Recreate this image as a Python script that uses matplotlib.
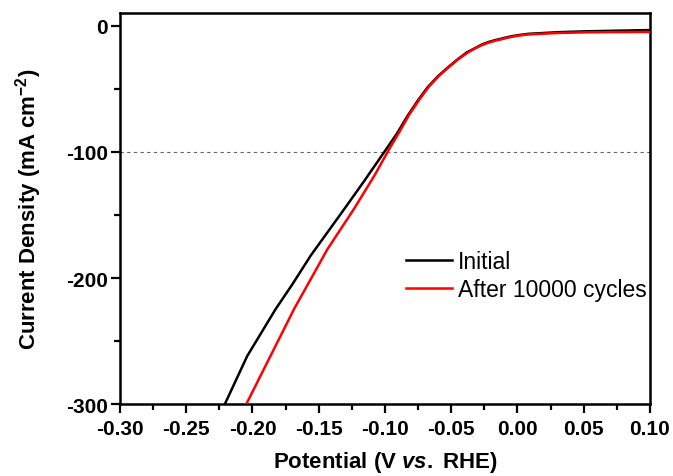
import numpy as np
import matplotlib
matplotlib.use('Agg')
import matplotlib.pyplot as plt
from matplotlib.ticker import MultipleLocator, FormatStrFormatter

plt.rcParams['font.family'] = 'Liberation Sans'
plt.rcParams['axes.unicode_minus'] = False
plt.rcParams['mathtext.fontset'] = 'custom'
plt.rcParams['mathtext.rm'] = 'Liberation Sans:bold'
plt.rcParams['mathtext.it'] = 'Liberation Sans:italic:bold'
plt.rcParams['mathtext.default'] = 'rm'

# 初始曲线
x_init = [-0.221, -0.204, -0.1826, -0.170, -0.156, -0.1333, -0.117, -0.1005,
          -0.091, -0.083, -0.075, -0.068, -0.060, -0.053, -0.045, -0.038,
          -0.032, -0.027, -0.022, -0.017, -0.011, -0.005, 0.000, 0.008,
          0.030, 0.051, 0.075, 0.100]
j_init = [-300, -261.7, -224.6, -205, -182, -149, -125, -100,
          -85.5, -71.5, -59, -49, -40, -33.5, -26.5, -21,
          -17.8, -15, -13, -11.5, -10, -8.5, -7.6, -6.5,
          -5.2, -4.5, -4.0, -3.5]

# 10000 圈后
x_after = [-0.2048, -0.1866, -0.1687, -0.1434, -0.1233, -0.1081, -0.0967,
           -0.089, -0.082, -0.074, -0.067, -0.059, -0.052, -0.044, -0.037,
           -0.032, -0.027, -0.022, -0.017, -0.011, -0.005, 0.000, 0.008,
           0.030, 0.051, 0.075, 0.100]
j_after = [-300, -262, -224.6, -177, -145, -119, -97.6,
           -84, -71, -58.5, -48.5, -39.5, -33, -26, -21,
           -18, -15.5, -13.5, -12, -10.5, -9, -8, -7,
           -5.8, -5.3, -5.1, -5.0]

labels = ['Initial', 'After 10000 cycles']

fig = plt.figure(figsize=(6.73, 4.77), dpi=100)
ax = fig.add_axes([0.1783, 0.150, 0.7875, 0.8206])

ax.axhline(-100, color='#666666', lw=0.8, dashes=(3, 3), zorder=1)
ax.plot(x_init, j_init, color='black', lw=1.8, label=labels[0], zorder=3)
ax.plot(x_after, j_after, color='red', lw=1.8, label=labels[1], zorder=4)

ax.set_xlim(-0.30, 0.10)
ax.set_ylim(-300, 10)
ax.xaxis.set_major_locator(MultipleLocator(0.05))
ax.xaxis.set_minor_locator(MultipleLocator(0.025))
ax.xaxis.set_major_formatter(FormatStrFormatter('%.2f'))
ax.yaxis.set_major_locator(MultipleLocator(100))
ax.yaxis.set_minor_locator(MultipleLocator(50))

for s in ax.spines.values():
    s.set_linewidth(1.8)
ax.tick_params(which='major', direction='out', length=6.5, width=1.6,
               labelsize=15)
ax.tick_params(axis='x', which='major', pad=4)
ax.tick_params(axis='y', which='major', pad=2)
ax.tick_params(which='minor', direction='out', length=4, width=1.6)
for t in ax.get_xticklabels() + ax.get_yticklabels():
    t.set_fontweight('bold')

ax.set_xlabel(r'Potential (V $\mathit{vs.}$ RHE)', fontsize=16,
              fontweight='bold', labelpad=8)
ax.set_ylabel(r'Current Density (mA cm$^{-2}$)', fontsize=16,
              fontweight='bold', labelpad=16)

ax.legend(loc='upper left', bbox_to_anchor=(0.603, 0.473),
          bbox_transform=fig.transFigure, frameon=False, fontsize=16.5,
          handlelength=2.0, handletextpad=0.27, labelspacing=0.2,
          borderpad=0, borderaxespad=0)

fig.savefig('out.png', dpi=100)
